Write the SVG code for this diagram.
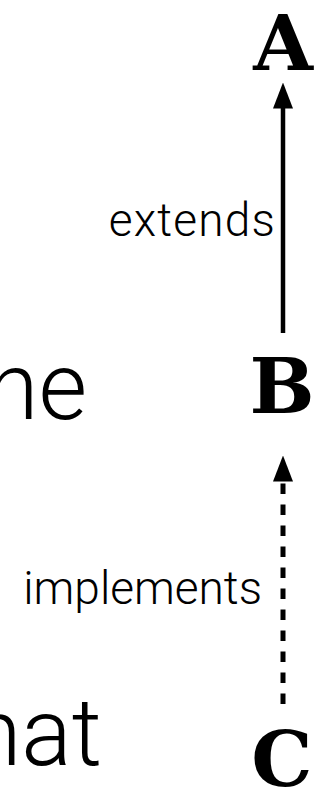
<svg xmlns="http://www.w3.org/2000/svg" width="332" height="789" viewBox="0 0 332 789">
  <style>
    .node { font-family: "DejaVu Serif", "Liberation Serif", serif; font-weight: bold; font-size: 77px; fill: #000; }
    .label { font-family: Roboto, "Liberation Sans", sans-serif; font-weight: 300; font-size: 46px; fill: #000; }
    .wide { letter-spacing: 1.2px; }
    .big { font-family: Roboto, "Liberation Sans", sans-serif; font-weight: 300; font-size: 94px; fill: #000; }
    .edge { stroke: #000; stroke-width: 4.5; fill: none; }
    .dashed { stroke-dasharray: 10.5 10.5; stroke-width: 5; }
  </style>
  <defs>
    <marker id="head" markerUnits="userSpaceOnUse" markerWidth="26" markerHeight="20" viewBox="0 0 26 20" refX="0.5" refY="10" orient="auto">
      <path d="M0,0 L26,10 L0,20 Z" fill="#000"/>
    </marker>
  </defs>
  <rect width="332" height="789" fill="#fff"/>

  <g id="background-text">
    <text class="big" x="87" y="419" text-anchor="end">ne</text>
    <text class="big" x="102" y="765" text-anchor="end">hat</text>
  </g>

  <g id="connectors">
    <line class="edge" x1="283" y1="333" x2="283" y2="108" marker-end="url(#head)"/>
    <text class="label wide" x="276" y="236" text-anchor="end">extends</text>
    <line class="edge dashed" x1="283" y1="704" x2="283" y2="481" marker-end="url(#head)"/>
    <text class="label" x="262" y="604" text-anchor="end">implements</text>
  </g>

  <g id="A"><text class="node" x="283" y="70" text-anchor="middle">A</text></g>
  <g id="B"><text class="node" x="282" y="413" text-anchor="middle">B</text></g>
  <g id="C"><text class="node" x="282" y="786" text-anchor="middle">C</text></g>
</svg>
